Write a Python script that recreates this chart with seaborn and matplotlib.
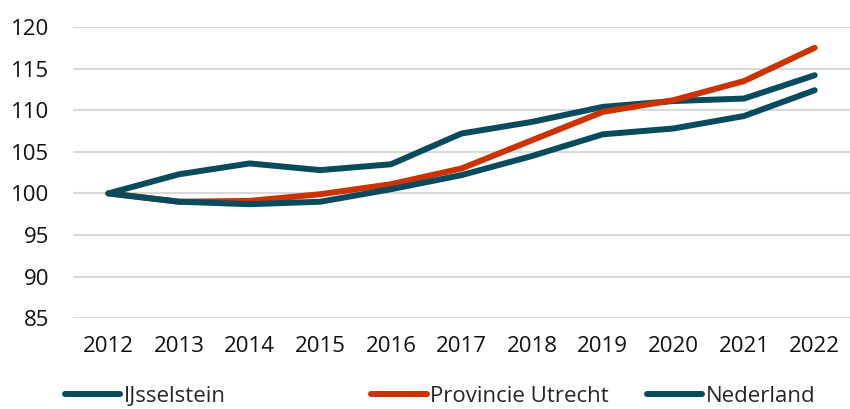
# woningwaarde index 2012=100

import matplotlib
matplotlib.use("Agg")
import matplotlib.pyplot as plt
import pandas as pd
import seaborn as sns

years = list(range(2012, 2023))
ijsselstein = [100, 102.3, 103.6, 102.8, 103.5, 107.2, 108.6, 110.4, 111.1, 111.4, 114.2]
utrecht = [100, 99.0, 99.1, 99.9, 101.1, 103.0, 106.4, 109.8, 111.2, 113.5, 117.5]
nederland = [100, 99.0, 98.7, 99.0, 100.5, 102.2, 104.5, 107.1, 107.8, 109.3, 112.4]
series_names = ["IJsselstein", "Provincie Utrecht", "Nederland"]
y_ticks = [85, 90, 95, 100, 105, 110, 115, 120]

TEAL = "#074b5c"
ORANGE = "#cc3300"

sns.set_theme(style="white")
plt.rcParams["font.family"] = ["Open Sans", "DejaVu Sans"]

df = pd.DataFrame({
    "jaar": years * 3,
    "index": ijsselstein + utrecht + nederland,
    "regio": [series_names[0]] * 11 + [series_names[1]] * 11 + [series_names[2]] * 11,
})
palette = {series_names[0]: TEAL, series_names[1]: ORANGE, series_names[2]: TEAL}

fig = plt.figure(figsize=(8.5, 4.09), dpi=100)
ax = fig.add_axes([0.086, 0.222, 0.914, 0.712])
sns.lineplot(data=df, x="jaar", y="index", hue="regio", palette=palette,
             hue_order=series_names, linewidth=4.3, ax=ax, legend=False,
             solid_capstyle="round", solid_joinstyle="round")

ax.set_xlim(2011.5, 2022.5)
ax.set_ylim(85, 120)
ax.set_xticks(years)
ax.set_yticks(y_ticks)
ax.yaxis.grid(True, color="#d9d9d9", linewidth=1.5)
ax.set_axisbelow(True)
for s in ax.spines.values():
    s.set_visible(False)
ax.set_xlabel("")
ax.set_ylabel("")
ax.tick_params(axis="both", labelsize=16, colors="#111111", length=0)
ax.tick_params(axis="x", pad=13)
ax.tick_params(axis="y", pad=17)

# legenda: drie losse items zoals in het origineel
leg_x = [0.076, 0.437, 0.761]
for name, lx in zip(series_names, leg_x):
    h = plt.Line2D([], [], color=palette[name], linewidth=4.3, solid_capstyle="round")
    fig.legend([h], [name], loc="center left", bbox_to_anchor=(lx, 0.03),
               frameon=False, fontsize=16, handlelength=2.5, handletextpad=0.15,
               borderpad=0, borderaxespad=0)

fig.savefig("out.png", dpi=100)
